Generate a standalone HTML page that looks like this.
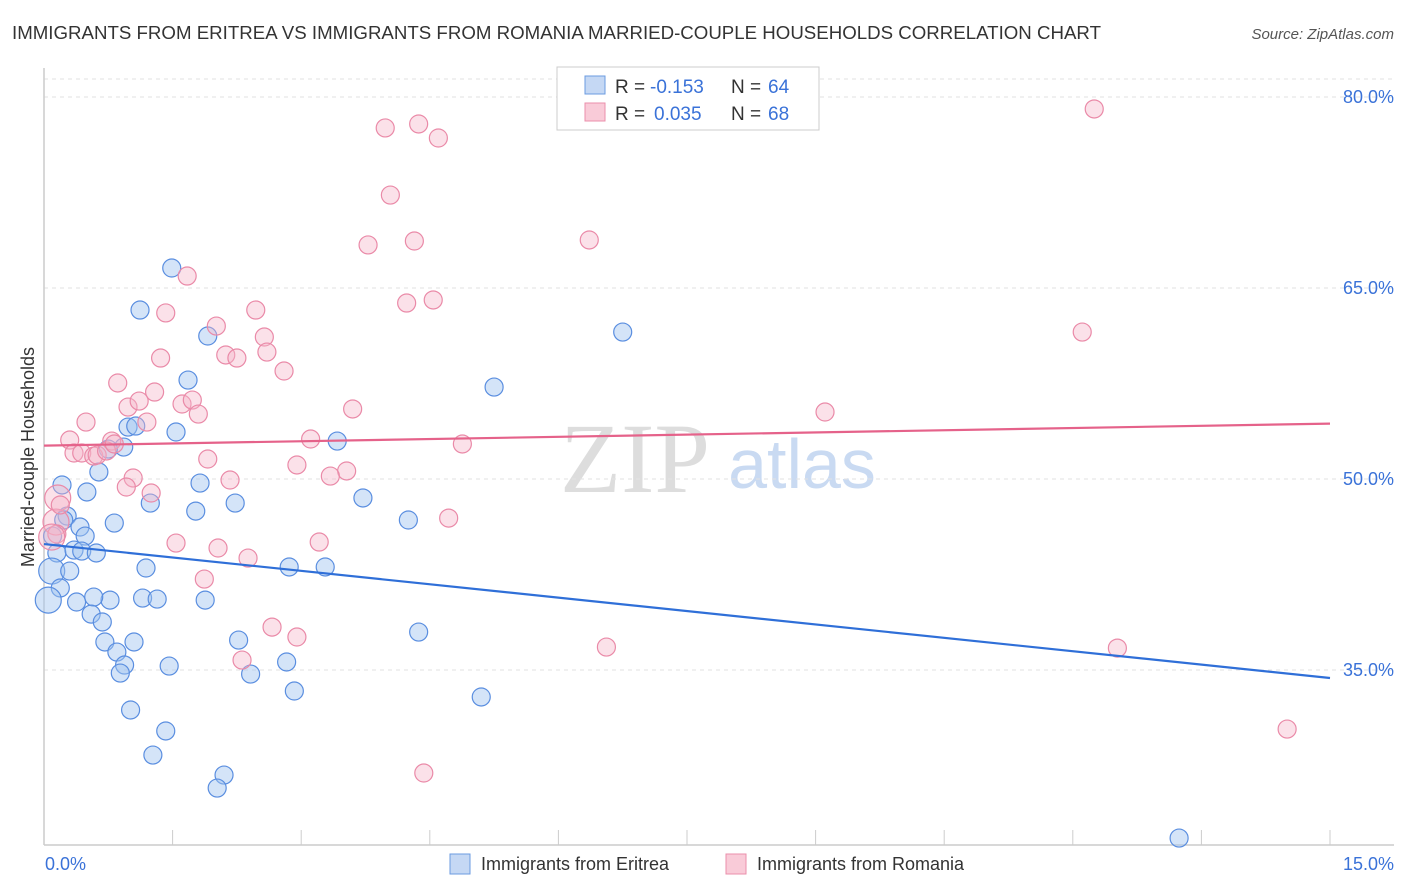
<!DOCTYPE html>
<html><head><meta charset="utf-8"><style>
body{margin:0;background:#fff;font-family:"Liberation Sans",sans-serif}
svg{display:block}
</style></head><body>
<svg width="1406" height="892" id="chart">
<text x="12" y="39" font-size="18" fill="#333" textLength="1089" lengthAdjust="spacingAndGlyphs">IMMIGRANTS FROM ERITREA VS IMMIGRANTS FROM ROMANIA MARRIED-COUPLE HOUSEHOLDS CORRELATION CHART</text>
<text x="1394" y="39" font-size="15" fill="#555" font-style="italic" text-anchor="end">Source: ZipAtlas.com</text>
<g>
<text x="635" y="492" font-size="100" fill="#ddd" font-family="Liberation Serif" text-anchor="middle">ZIP</text>
<text x="802" y="488" font-size="70" fill="#c9daf2" text-anchor="middle">atlas</text>
</g>
<g id="grid"></g>
<g id="axes"></g>
<g id="pts"></g>
<g id="trend"></g>
<text transform="translate(34,457) rotate(-90)" font-size="18" fill="#333" text-anchor="middle">Married-couple Households</text>
<g>
<rect x="557" y="67" width="262" height="63" fill="#fff" stroke="#ccc"/>
<rect x="585" y="76" width="20" height="18" fill="#c5d8f4" stroke="#6b9be0"/>
<rect x="585" y="103" width="20" height="18" fill="#f9cbd8" stroke="#eb8fab"/>
<text x="615" y="93" font-size="19" fill="#333">R =</text>
<text x="650" y="93" font-size="19" fill="#3a72d8">-0.153</text>
<text x="731" y="93" font-size="19" fill="#333">N =</text>
<text x="768" y="93" font-size="19" fill="#3a72d8">64</text>
<text x="615" y="120" font-size="19" fill="#333">R =</text>
<text x="654" y="120" font-size="19" fill="#3a72d8">0.035</text>
<text x="731" y="120" font-size="19" fill="#333">N =</text>
<text x="768" y="120" font-size="19" fill="#3a72d8">68</text>
</g>
<g>
<rect x="450" y="854" width="20" height="20" fill="#c5d8f4" stroke="#6b9be0"/>
<text x="481" y="870" font-size="18" fill="#333">Immigrants from Eritrea</text>
<rect x="726" y="854" width="20" height="20" fill="#f9cbd8" stroke="#eb8fab"/>
<text x="757" y="870" font-size="18" fill="#333">Immigrants from Romania</text>
</g>
</svg>
<script>
const xTicksLabels=["0.0%","15.0%"];
const yTicks=[80,65,50,35];
const blueX=[1.49,1.12,1.91,1.68,6.75,5.25,0.98,1.07,1.54,0.93,0.75,3.42,0.21,0.50,0.64,3.72,1.82,1.24,2.23,1.77,4.25,0.27,0.23,0.82,0.42,0.48,0.10,0.15,0.35,0.44,0.61,2.86,3.28,1.19,0.09,0.30,0.19,0.05,0.38,0.77,0.58,1.15,1.32,1.88,0.55,0.68,0.71,1.05,2.27,4.37,0.85,0.94,0.89,1.46,2.83,2.41,2.92,5.10,1.01,1.42,1.27,2.10,2.02,13.24];
const blueY=[66.57,63.27,61.23,57.77,61.54,57.22,54.08,54.16,53.69,52.51,52.35,52.98,49.53,48.98,50.55,48.51,49.68,48.11,48.11,47.48,46.78,47.09,46.78,46.54,46.23,45.52,45.52,44.19,44.42,44.34,44.19,43.09,43.09,43.01,42.77,42.77,41.44,40.49,40.34,40.49,40.73,40.65,40.57,40.49,39.39,38.77,37.20,37.20,37.35,37.98,36.41,35.39,34.76,35.31,35.63,34.68,33.35,32.88,31.86,30.21,28.32,26.75,25.73,21.80];
const pinkX=[12.25,3.98,4.37,4.60,4.04,3.78,4.32,6.36,1.67,4.23,4.54,1.42,2.47,2.01,12.11,2.57,1.36,2.12,2.25,2.60,2.80,0.86,1.29,0.98,1.11,1.61,1.73,1.80,1.20,3.60,9.11,0.49,0.30,0.79,3.11,4.88,0.35,0.44,0.58,0.62,0.73,0.82,1.91,2.95,3.53,3.34,1.04,2.17,0.96,1.25,0.16,4.72,0.14,0.15,1.54,2.03,3.21,2.38,1.87,2.66,2.95,2.31,6.56,12.52,14.50,4.43,0.09,0.19];
const pinkY=[79.06,77.57,77.88,76.78,72.30,68.38,68.69,68.77,65.94,63.82,64.06,63.04,63.27,62.01,61.54,61.15,59.50,59.74,59.50,59.97,58.48,57.54,56.83,55.65,56.12,55.89,56.20,55.10,54.47,55.50,55.26,54.47,53.06,52.98,53.14,52.75,52.04,52.04,51.80,51.88,52.20,52.75,51.57,51.10,50.63,50.23,50.08,49.92,49.37,48.90,48.51,46.93,46.62,45.68,44.97,44.58,45.05,43.79,42.14,38.37,37.59,35.78,36.80,36.72,30.36,26.91,45.44,47.96];
const blueBig=[37,34];
const pinkBig=[50,52,66];
const blueTrend=[44.89,34.37];
const pinkTrend=[52.62,54.35];
const NS="http://www.w3.org/2000/svg";
const X0=44,X1=1330,Y80=97,Y35=670;
const xs=v=>X0+(X1-X0)*v/15;
const ys=v=>Y80+(80-v)*(Y35-Y80)/45;
function mk(t,a,p){const e=document.createElementNS(NS,t);for(const k in a)e.setAttribute(k,a[k]);p.appendChild(e);return e;}
const grid=document.getElementById('grid'),axes=document.getElementById('axes');
mk('line',{x1:X0,x2:1394,y1:79,y2:79,stroke:'#e2e2e2','stroke-dasharray':'4,4'},grid);
yTicks.forEach(v=>{
 const l=mk('line',{x1:X0,x2:1394,y1:ys(v),y2:ys(v),stroke:'#e2e2e2','stroke-dasharray':'4,4'},grid);
 
 
 const t=mk('text',{x:1394,y:ys(v)+6,'font-size':18,fill:'#3a72d8','text-anchor':'end'},axes);
 t.textContent=v.toFixed(1)+'%';
 
 
});
mk('line',{x1:X0,x2:X0,y1:68,y2:845,stroke:'#ccc','stroke-width':1.5},axes);
mk('line',{x1:X0,x2:1394,y1:845,y2:845,stroke:'#ccc','stroke-width':1.5},axes);
for(let i=0;i<=10;i++){const x=xs(i*1.5);mk('line',{x1:x,x2:x,y1:830,y2:845,stroke:'#ccc'},axes);}
let t0=mk('text',{x:45,y:870,'font-size':18,fill:'#3a72d8'},axes);t0.textContent=xTicksLabels[0];


let t1=mk('text',{x:1394,y:870,'font-size':18,fill:'#3a72d8','text-anchor':'end'},axes);t1.textContent=xTicksLabels[1];


const pts=document.getElementById('pts');
blueX.forEach((v,i)=>{
 const c=mk('circle',{cx:xs(v),cy:ys(blueY[i]),r:blueBig.includes(i)?13:9,fill:'rgba(160,195,240,0.45)',stroke:'#5a8ee0','stroke-width':1.2},pts);
 
 
});
pinkX.forEach((v,i)=>{
 const c=mk('circle',{cx:xs(v),cy:ys(pinkY[i]),r:pinkBig.includes(i)?13:9,fill:'rgba(246,180,200,0.4)',stroke:'#ea8aa8','stroke-width':1.2},pts);
 
 
});
const tr=document.getElementById('trend');
const bl=mk('line',{x1:xs(0),x2:xs(15),y1:ys(blueTrend[0]),y2:ys(blueTrend[1]),stroke:'#2f6fd8','stroke-width':2.2},tr);


const pl=mk('line',{x1:xs(0),x2:xs(15),y1:ys(pinkTrend[0]),y2:ys(pinkTrend[1]),stroke:'#e5628a','stroke-width':2.2},tr);


</script>
</body></html>
